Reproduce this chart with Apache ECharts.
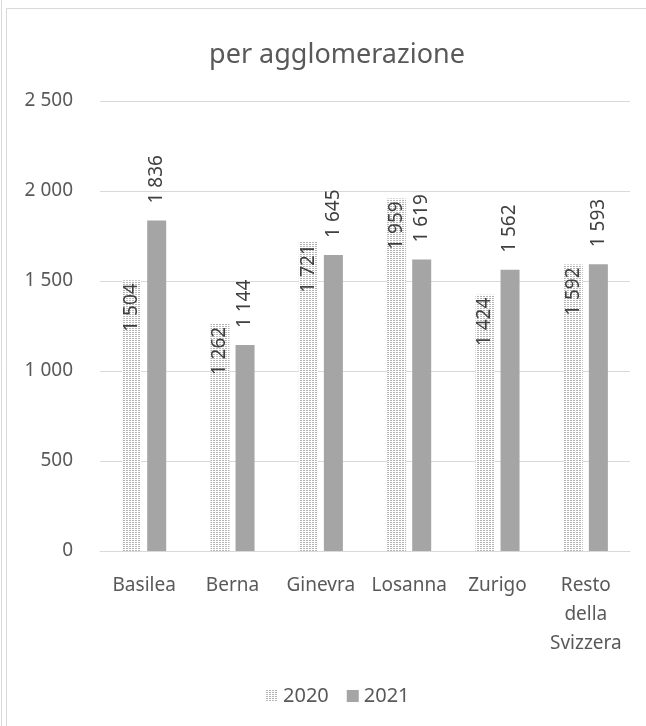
<!DOCTYPE html>
<html>
<head>
<meta charset="utf-8">
<script src="https://cdn.jsdelivr.net/npm/echarts@6/dist/echarts.min.js"></script>
<style>
html,body{margin:0;padding:0;background:#fff;}
#main{width:646px;height:726px;}
</style>
</head>
<body>
<div id="main"></div>
<script>
// dati
var categories = ['Basilea', 'Berna', 'Ginevra', 'Losanna', 'Zurigo', 'Resto\ndella\nSvizzera'];
var values2020 = [1504, 1262, 1721, 1959, 1424, 1592];
var values2021 = [1836, 1144, 1645, 1619, 1562, 1593];
var yTicks = [0, 500, 1000, 1500, 2000, 2500];

// separatore delle migliaia con spazio
function fmt(v) {
	return String(v).replace(/\B(?=(\d{3})+(?!\d))/g, ' ');
}

// motivo a puntini per il 2020
function dotPattern() {
	var c = document.createElement('canvas');
	c.width = 3;
	c.height = 2;
	var ctx = c.getContext('2d');
	ctx.fillStyle = '#ffffff';
	ctx.fillRect(0, 0, 3, 2);
	ctx.fillStyle = '#b4b4b4';
	ctx.fillRect(0, 0, 2, 1);
	return c;
}

var myChart = echarts.init(document.getElementById('main'));
var font = '"Noto Sans", "Open Sans", sans-serif';
var pattern = { image: dotPattern(), repeat: 'repeat' };

var option = {
	animation: false,
	textStyle: { fontFamily: font },
	title: {
		text: 'per agglomerazione',
		left: 332,
		textAlign: 'center',
		top: 37,
		textStyle: { fontSize: 27, fontWeight: 'normal', color: '#595959', fontFamily: font }
	},
	graphic: [
		{ type: 'rect', shape: { x: 6.5, y: 8.5, width: 700, height: 730 }, style: { fill: 'none', stroke: '#d9d9d9', lineWidth: 1 } },
		{ type: 'line', shape: { x1: 1.5, y1: 0, x2: 1.5, y2: 726 }, style: { stroke: '#d9d9d9', lineWidth: 1 } }
	],
	legend: {
		top: 681,
		left: 261,
		itemWidth: 12,
		itemHeight: 12,
		itemGap: 18,
		textStyle: { fontSize: 20, color: '#595959' },
		data: [
			{ name: '2020', icon: 'rect', itemStyle: { color: pattern } },
			{ name: '2021', icon: 'rect' }
		]
	},
	grid: { left: 100, right: 16, top: 101, bottom: 175 },
	xAxis: {
		type: 'category',
		data: categories,
		axisTick: { show: false },
		axisLine: { lineStyle: { color: '#d9d9d9' } },
		axisLabel: { color: '#595959', fontSize: 19, margin: 20, lineHeight: 29, interval: 0 }
	},
	yAxis: {
		type: 'value',
		min: yTicks[0],
		max: yTicks[yTicks.length - 1],
		interval: 500,
		axisLine: { show: false },
		axisTick: { show: false },
		splitLine: { lineStyle: { color: '#d9d9d9' } },
		axisLabel: { color: '#595959', fontSize: 19, margin: 27, formatter: function (v) { return fmt(v); } }
	},
	series: [
		{
			name: '2020',
			type: 'bar',
			data: values2020,
			barWidth: 19,
			barGap: '32%',
			itemStyle: { color: pattern },
			label: {
				show: true,
				position: 'insideTop',
				rotate: 90,
				align: 'right',
				verticalAlign: 'middle',
				distance: 3,
				color: '#404040',
				fontSize: 19,
				formatter: function (p) { return fmt(p.value); }
			}
		},
		{
			name: '2021',
			type: 'bar',
			data: values2021,
			barWidth: 19,
			itemStyle: { color: '#a5a5a5' },
			label: {
				show: true,
				position: 'top',
				rotate: 90,
				align: 'left',
				verticalAlign: 'middle',
				distance: 17,
				color: '#404040',
				fontSize: 19,
				formatter: function (p) { return fmt(p.value); }
			}
		}
	]
};

myChart.setOption(option);
</script>
</body>
</html>
